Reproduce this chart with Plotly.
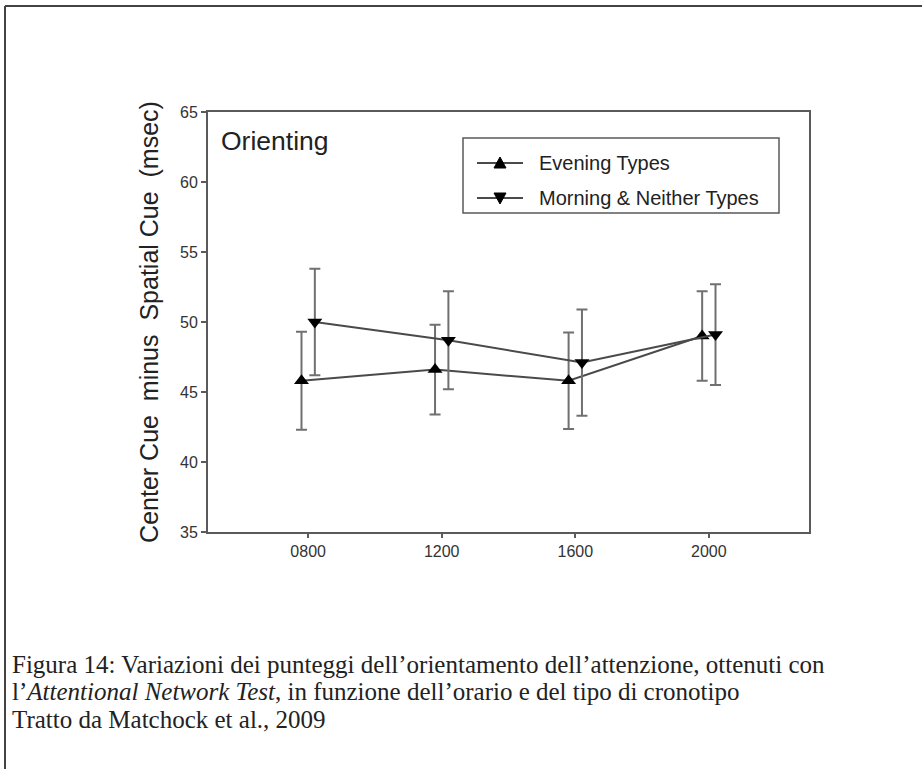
import plotly.graph_objects as go

# Time-of-day sessions and orienting scores (ms) by chronotype
sessions = ["0800", "1200", "1600", "2000"]
evening_mean = [45.8, 46.6, 45.8, 49.0]
evening_err = [3.5, 3.2, 3.45, 3.2]
morning_mean = [50.0, 48.7, 47.1, 49.1]
morning_err = [3.8, 3.5, 3.8, 3.6]
y_ticks = [35, 40, 45, 50, 55, 60, 65]

series_names = ["Evening Types", "Morning & Neither Types"]
series_symbols = ["triangle-up", "triangle-down"]

caption_lines = [
    "Figura 14: Variazioni dei punteggi dell\u2019orientamento dell\u2019attenzione, ottenuti con",
    "l\u2019<i>Attentional Network Test</i>, in funzione dell\u2019orario e del tipo di cronotipo",
    "Tratto da Matchock et al., 2009",
]

W, H = 922, 769
dodge = 0.05
pos = list(range(len(sessions)))

SANS = "Liberation Sans, Arial, sans-serif"
SERIF = "Liberation Serif, Times New Roman, serif"
line_col = "#4a4a4a"
err_col = "#707070"
axis_col = "#5a5a5a"


def px(x):
    return x / W


def py(y):
    return 1 - y / H


fig = go.Figure()

for offset, means, errs, name, sym in [
    (-dodge, evening_mean, evening_err, series_names[0], series_symbols[0]),
    (dodge, morning_mean, morning_err, series_names[1], series_symbols[1]),
]:
    fig.add_trace(go.Scatter(
        x=[p + offset for p in pos], y=means, name=name,
        mode="lines+markers", showlegend=False,
        line=dict(color=line_col, width=2),
        marker=dict(symbol=sym, size=13, color="black"),
        error_y=dict(type="data", array=errs, color=err_col, thickness=2, width=5.5),
    ))

# plot box in pixels
x0, x1 = 208, 809
y_top, y_bot = 112, 532

tick_font = dict(family=SANS, size=16, color="#333")

fig.update_layout(
    width=W, height=H, autosize=False,
    margin=dict(l=0, r=0, t=0, b=0, autoexpand=False),
    paper_bgcolor="white", plot_bgcolor="white",
    showlegend=False,
    xaxis=dict(
        domain=[px(x0), px(x1)], range=[-0.75, 3.75],
        tickmode="array", tickvals=pos, ticktext=sessions,
        showline=True, linecolor=axis_col, linewidth=2, mirror=True,
        ticks="outside", ticklen=4, tickcolor=axis_col, tickwidth=1.5,
        showgrid=False, zeroline=False, tickfont=tick_font, automargin=False,
    ),
    yaxis=dict(
        domain=[py(y_bot), py(y_top)], range=[35, 65],
        tickmode="array", tickvals=y_ticks,
        showline=True, linecolor=axis_col, linewidth=2, mirror=True,
        ticks="outside", ticklen=5, tickcolor=axis_col, tickwidth=1.5,
        showgrid=False, zeroline=False, tickfont=tick_font, automargin=False,
        title=dict(text="Center Cue  minus  Spatial Cue  (msec)",
                   font=dict(family=SANS, size=25, color="#222"),
                   standoff=14),
    ),
)

# legend key drawn in paper space
lx0, lx1, ly0, ly1 = 463, 779, 138, 213
row_y = [163, 198]
fig.add_shape(type="rect", xref="paper", yref="paper",
              x0=px(lx0), x1=px(lx1), y0=py(ly1), y1=py(ly0),
              line=dict(color=axis_col, width=1.5), fillcolor="white", layer="below")
tri = 6
for ry, name, sym in zip(row_y, series_names, series_symbols):
    fig.add_shape(type="line", xref="paper", yref="paper",
                  x0=px(477), x1=px(523), y0=py(ry), y1=py(ry),
                  line=dict(color=line_col, width=1.8))
    if sym == "triangle-up":
        pts = [(500 - tri, ry + 5), (500 + tri, ry + 5), (500, ry - 6)]
    else:
        pts = [(500 - tri, ry - 5), (500 + tri, ry - 5), (500, ry + 6)]
    path = "M {} {} L {} {} L {} {} Z".format(
        *[v for p in pts for v in (px(p[0]), py(p[1]))])
    fig.add_shape(type="path", xref="paper", yref="paper", path=path,
                  fillcolor="black", line=dict(color="black", width=1))
    fig.add_annotation(text=name, xref="paper", yref="paper", x=px(537), y=py(ry),
                       xanchor="left", yanchor="middle", showarrow=False,
                       font=dict(family=SANS, size=20, color="#222"))

fig.add_annotation(
    text="Orienting", xref="paper", yref="paper",
    x=px(219), y=py(141), xanchor="left", yanchor="middle", showarrow=False,
    font=dict(family=SANS, size=26.5, color="#222"),
)

for i, line in enumerate(caption_lines):
    fig.add_annotation(
        text=line, xref="paper", yref="paper",
        x=px(10), y=py(664 + 27.7 * i), xanchor="left", yanchor="middle",
        showarrow=False,
        font=dict(family=SERIF, size=25, color="#222"),
    )

# page frame: top and left rules
fig.add_shape(type="line", xref="paper", yref="paper",
              x0=px(5), x1=1, y0=py(6), y1=py(6),
              line=dict(color="#444", width=2))
fig.add_shape(type="line", xref="paper", yref="paper",
              x0=px(5), x1=px(5), y0=0, y1=py(6),
              line=dict(color="#444", width=2))

fig.write_html("out.html")
